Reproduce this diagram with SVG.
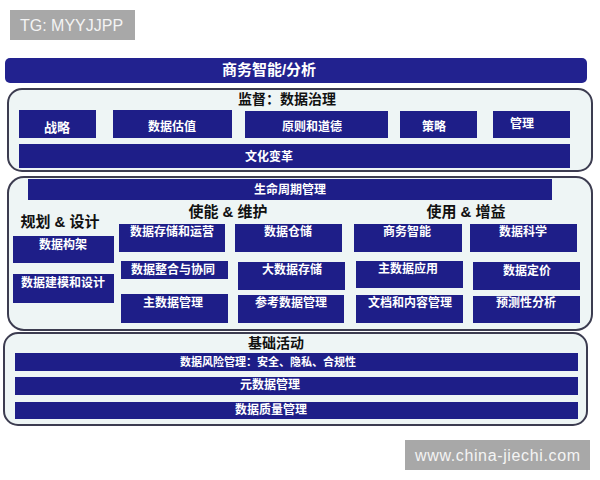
<svg xmlns="http://www.w3.org/2000/svg" width="600" height="480" viewBox="0 0 600 480">
<style>
.box{fill:#1e1e88;}
.cont{fill:#eef5f5;stroke:#3c3c50;stroke-width:2;}
.bt{font-family:"Liberation Sans","Noto Sans CJK SC",sans-serif;font-weight:bold;fill:#ffffff;font-size:12px;text-anchor:middle;}
.bt11{font-size:11px;}
.bt13{font-size:13px;}
.hd{font-family:"Liberation Sans","Noto Sans CJK SC",sans-serif;font-weight:bold;fill:#111111;font-size:14px;text-anchor:middle;}
.wm{font-family:"Liberation Sans","Noto Sans CJK SC",sans-serif;fill:#f4f4f4;font-size:16px;}
</style>
<rect width="600" height="480" fill="#ffffff"/>
<g id="tg">
<rect x="10" y="10" width="125" height="30" fill="#a8a8a8"/>
<text class="wm" x="20" y="31">TG: MYYJJPP</text>
</g>
<g id="bi-title">
<rect x="5" y="58" width="582" height="25" rx="5" fill="#22228f"/>
<text class="bt" style="font-size:15px" x="269" y="75">商务智能/分析</text>
</g>
<g id="governance">
<rect class="cont" x="8" y="89" width="584" height="82" rx="14"/>
<text class="hd" x="287" y="104">监督：数据治理</text>
</g>
<g id="n-strategy"><rect class="box" x="19" y="110" width="77" height="28"/><text class="bt bt13" x="57" y="132">战略</text></g>
<g id="n-valuation"><rect class="box" x="113" y="110" width="119" height="28"/><text class="bt" x="172" y="131">数据估值</text></g>
<g id="n-ethics"><rect class="box" x="245" y="111" width="143" height="27"/><text class="bt" x="312" y="131">原则和道德</text></g>
<g id="n-policy"><rect class="box" x="400" y="111" width="77" height="27"/><text class="bt" x="434" y="131">策略</text></g>
<g id="n-mgmt"><rect class="box" x="493" y="111" width="77" height="27"/><text class="bt" x="522" y="128">管理</text></g>
<g id="n-culture"><rect class="box" x="19" y="144" width="551" height="24"/><text class="bt" x="269" y="161">文化变革</text></g>
<g id="lifecycle">
<rect class="cont" x="8" y="177" width="584" height="153" rx="16"/>
</g>
<g id="n-lifecycle-bar"><rect class="box" x="28" y="179" width="524" height="21"/><text class="bt" x="290" y="194">生命周期管理</text></g>
<g id="h-plan"><text class="hd" style="font-size:15px" x="60" y="227">规划 &amp; 设计</text></g>
<g id="h-enable"><text class="hd" style="font-size:15px" x="228" y="217">使能 &amp; 维护</text></g>
<g id="h-use"><text class="hd" style="font-size:15px" x="466" y="217">使用 &amp; 增益</text></g>
<g id="n-arch"><rect class="box" x="13" y="236" width="101" height="27"/><text class="bt" x="63" y="249">数据构架</text></g>
<g id="n-model"><rect class="box" x="13" y="274" width="101" height="29"/><text class="bt" x="63" y="287">数据建模和设计</text></g>
<g id="n-storage-ops"><rect class="box" x="119" y="224" width="106" height="28"/><text class="bt" x="172" y="236">数据存储和运营</text></g>
<g id="n-integration"><rect class="box" x="121" y="261" width="107" height="18"/><text class="bt" x="173" y="274">数据整合与协同</text></g>
<g id="n-mdm"><rect class="box" x="121" y="294" width="107" height="29"/><text class="bt" x="173" y="307">主数据管理</text></g>
<g id="n-warehouse"><rect class="box" x="235" y="224" width="107" height="28"/><text class="bt" x="288" y="236">数据仓储</text></g>
<g id="n-bigdata"><rect class="box" x="238" y="262" width="107" height="28"/><text class="bt" x="292" y="274">大数据存储</text></g>
<g id="n-refdata"><rect class="box" x="238" y="295" width="106" height="28"/><text class="bt" x="291" y="307">参考数据管理</text></g>
<g id="n-bi"><rect class="box" x="354" y="224" width="108" height="28"/><text class="bt" x="407" y="236">商务智能</text></g>
<g id="n-ds"><rect class="box" x="470" y="224" width="107" height="28"/><text class="bt" x="523" y="236">数据科学</text></g>
<g id="n-mdapp"><rect class="box" x="356" y="261" width="107" height="27"/><text class="bt" x="408" y="273">主数据应用</text></g>
<g id="n-pricing"><rect class="box" x="473" y="262" width="107" height="28"/><text class="bt" x="527" y="275">数据定价</text></g>
<g id="n-doc"><rect class="box" x="356" y="295" width="107" height="28"/><text class="bt" x="410" y="307">文档和内容管理</text></g>
<g id="n-predict"><rect class="box" x="473" y="296" width="107" height="27"/><text class="bt" x="526" y="307">预测性分析</text></g>
<g id="foundation">
<rect class="cont" x="4" y="333" width="583" height="92" rx="14"/>
<text class="hd" x="276" y="348">基础活动</text>
</g>
<g id="n-risk"><rect class="box" x="15" y="353" width="563" height="18"/><text class="bt bt11" x="268" y="366">数据风险管理：安全、隐私、合规性</text></g>
<g id="n-meta"><rect class="box" x="15" y="377" width="563" height="18"/><text class="bt" x="270" y="389">元数据管理</text></g>
<g id="n-quality"><rect class="box" x="15" y="402" width="563" height="17"/><text class="bt" x="271" y="414">数据质量管理</text></g>
<g id="watermark">
<rect x="405" y="440" width="185" height="30" fill="#a8a8a8"/>
<text class="wm" x="415" y="461" textLength="165" lengthAdjust="spacing">www.china-jiechi.com</text>
</g>
</svg>
